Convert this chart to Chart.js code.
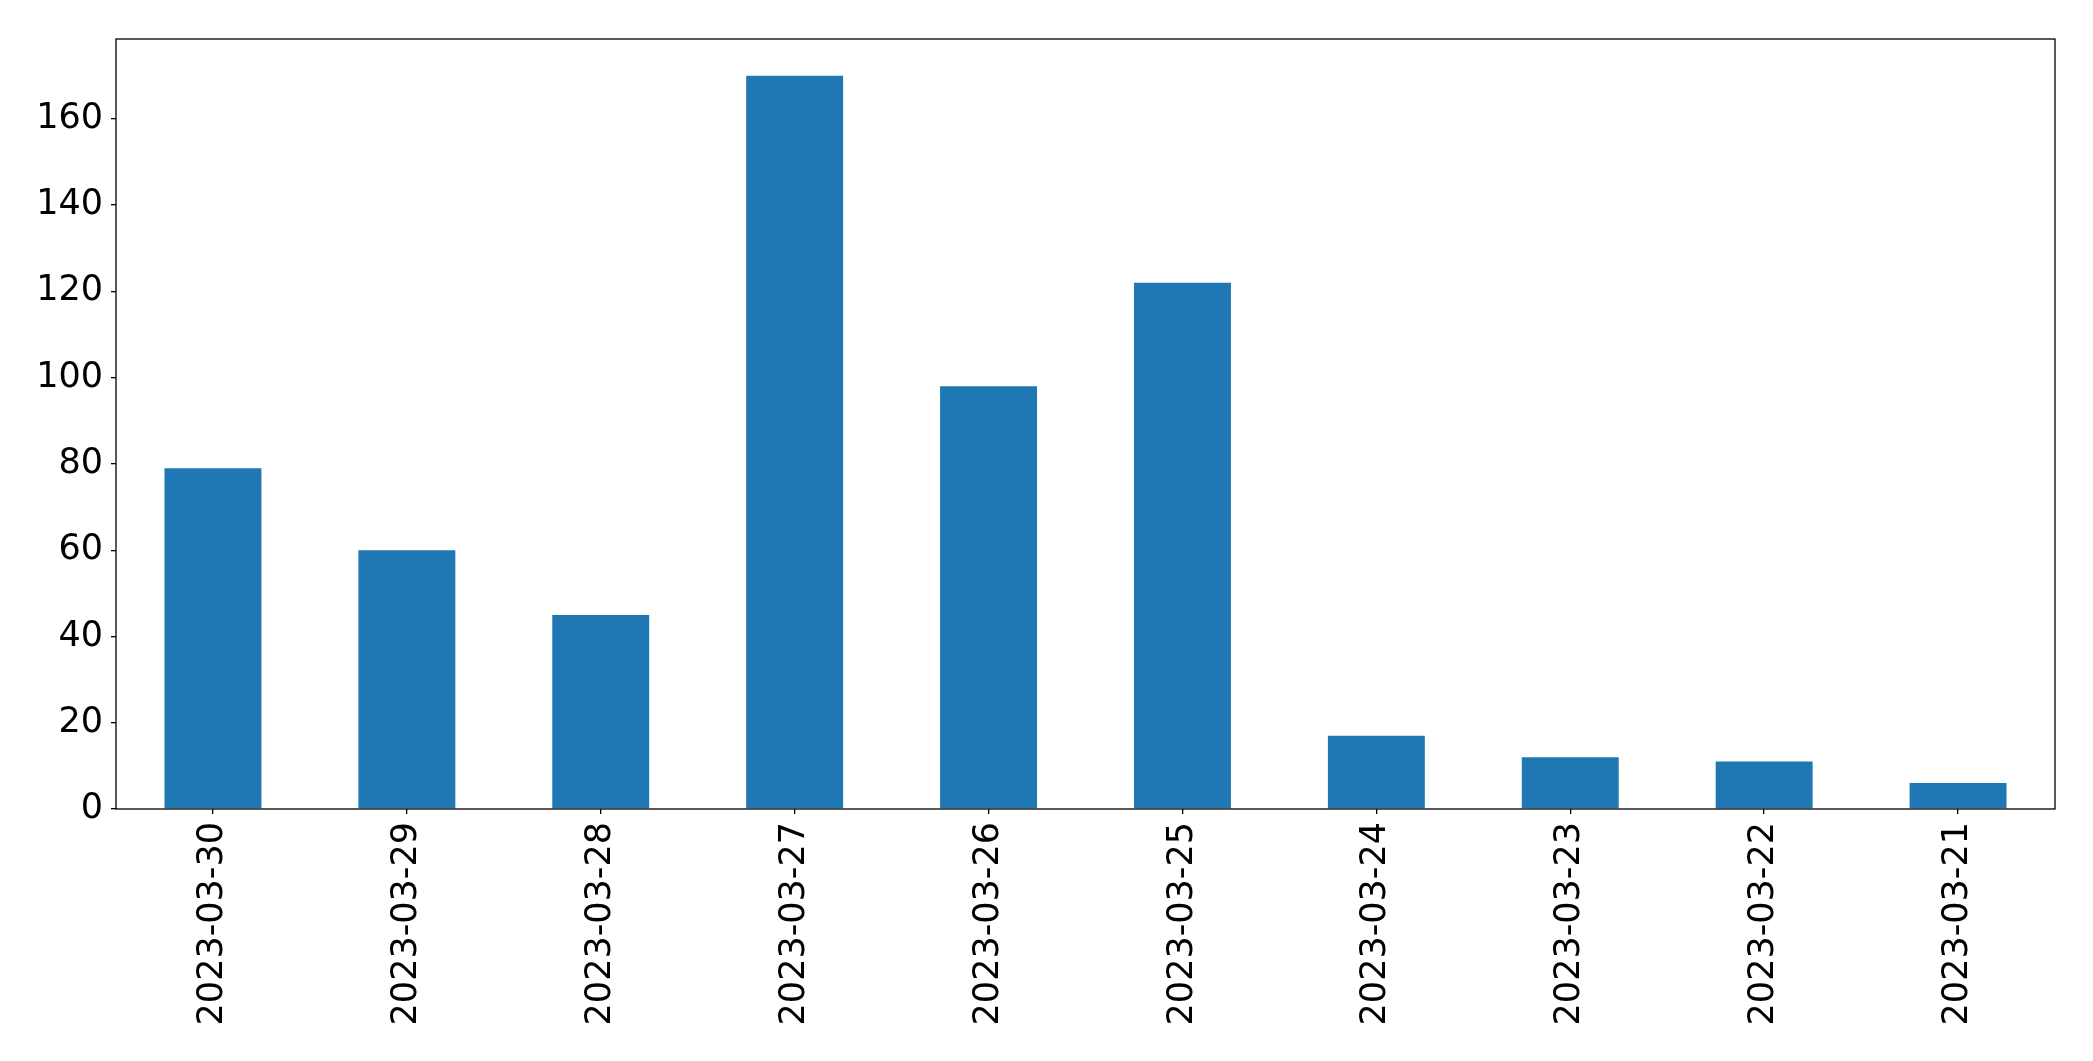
<!DOCTYPE html>
<html>
<head>
<meta charset="utf-8">
<script src="https://cdn.jsdelivr.net/npm/chart.js@4"></script>
<style>
  body { margin: 0; background: #fff; }
  canvas { display: block; }
</style>
</head>
<body>
<canvas id="grafico" width="2093" height="1061"></canvas>
<script>
// dados
var datas = ['2023-03-30', '2023-03-29', '2023-03-28', '2023-03-27', '2023-03-26',
             '2023-03-25', '2023-03-24', '2023-03-23', '2023-03-22', '2023-03-21'];
var valores = [79, 60, 45, 170, 98, 122, 17, 12, 11, 6];
var yTicks = [0, 20, 40, 60, 80, 100, 120, 140, 160];
var yMax = 178.5;

// moldura em volta da area do grafico
var moldura = {
  id: 'moldura',
  afterDraw: function (chart) {
    var a = chart.chartArea;
    var ctx = chart.ctx;
    ctx.save();
    ctx.strokeStyle = '#000';
    ctx.lineWidth = 1.3;
    ctx.strokeRect(a.left, a.top, a.right - a.left, a.bottom - a.top);
    ctx.restore();
  }
};

Chart.defaults.font.family = "'DejaVu Sans', sans-serif";
Chart.defaults.color = '#000';

new Chart(document.getElementById('grafico'), {
  type: 'bar',
  data: {
    labels: datas,
    datasets: [{
      data: valores,
      backgroundColor: '#1f77b4',
      barPercentage: 0.5,
      categoryPercentage: 1.0
    }]
  },
  options: {
    responsive: false,
    animation: false,
    layout: { padding: { top: 39, right: 38, left: 0, bottom: 0 } },
    plugins: { legend: { display: false }, tooltip: { enabled: false } },
    scales: {
      x: {
        offset: true,
        grid: { offset: false, drawOnChartArea: false, drawTicks: true, tickLength: 5, color: '#000', lineWidth: 1.3 },
        border: { display: false },
        ticks: { minRotation: 90, maxRotation: 90, padding: 8, font: { size: 35 }, autoSkip: false },
        afterFit: function (s) { s.height = 252; }
      },
      y: {
        min: 0,
        max: yMax,
        grid: { drawOnChartArea: false, drawTicks: true, tickLength: 5, color: '#000', lineWidth: 1.3 },
        border: { display: false },
        ticks: { stepSize: 20, padding: 8, font: { size: 35 } },
        afterBuildTicks: function (s) {
          s.ticks = yTicks.map(function (v) { return { value: v }; });
        },
        afterFit: function (s) { s.width = 116; }
      }
    }
  },
  plugins: [moldura]
});
</script>
</body>
</html>
